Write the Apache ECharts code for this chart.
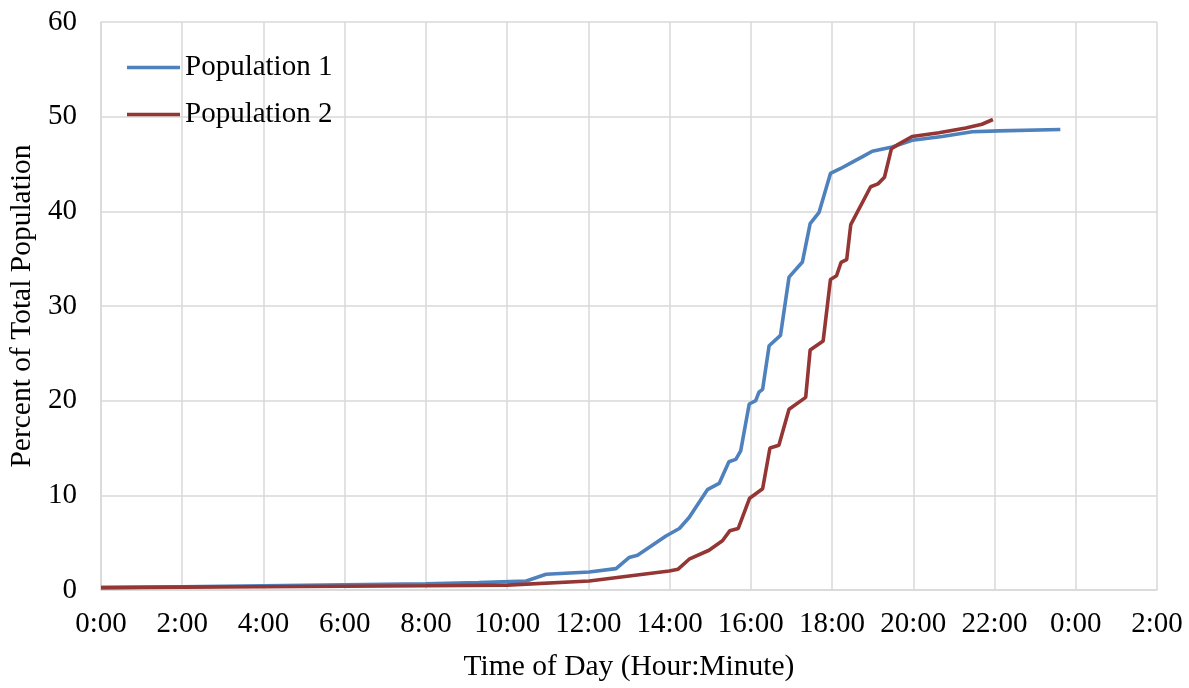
<!DOCTYPE html>
<html><head><meta charset="utf-8">
<script src="https://cdn.jsdelivr.net/npm/echarts@6/dist/echarts.min.js"></script>
<style>html,body{margin:0;padding:0;background:#fff}#c{width:1189px;height:688px}</style>
</head><body><div id="c"></div>
<script>
// time of day in hours (values > 24 belong to next day)
var xTicks = [0,2,4,6,8,10,12,14,16,18,20,22,24,26];
var pop1Time = [0, 2, 4, 6, 8, 9.3, 10.47, 10.96, 12.02, 12.68, 13.0, 13.21, 13.91, 14.24, 14.48, 14.93, 15.22, 15.46, 15.63, 15.75, 15.96, 16.12, 16.2, 16.29, 16.45, 16.73, 16.94, 17.27, 17.46, 17.68, 17.96, 18.2, 18.5, 18.74, 18.99, 19.48, 19.97, 20.71, 21.45, 22.1, 23.62];
var pop1Value = [0.25, 0.35, 0.45, 0.55, 0.65, 0.78, 0.95, 1.66, 1.9, 2.26, 3.43, 3.67, 5.7, 6.5, 7.66, 10.6, 11.26, 13.55, 13.8, 14.7, 19.65, 20.0, 20.9, 21.2, 25.8, 26.9, 33.05, 34.65, 38.7, 39.9, 44.0, 44.5, 45.2, 45.75, 46.35, 46.8, 47.5, 47.9, 48.4, 48.5, 48.65];
var pop2Time = [0, 2, 4, 6, 8, 10.0, 12.02, 13.99, 14.21, 14.48, 14.97, 15.3, 15.48, 15.69, 15.97, 16.29, 16.47, 16.69, 16.94, 17.35, 17.46, 17.78, 17.96, 18.11, 18.22, 18.36, 18.46, 18.95, 19.13, 19.29, 19.46, 19.64, 19.97, 20.63, 21.29, 21.69, 21.96];
var pop2Value = [0.25, 0.3, 0.35, 0.4, 0.45, 0.52, 0.95, 2.0, 2.2, 3.25, 4.2, 5.2, 6.25, 6.5, 9.7, 10.7, 15.0, 15.3, 19.1, 20.35, 25.35, 26.3, 32.8, 33.2, 34.6, 34.9, 38.6, 42.6, 42.9, 43.6, 46.6, 47.1, 47.9, 48.3, 48.8, 49.2, 49.7];

function pairs(t, v){ return t.map(function(x,i){ return [x, v[i]]; }); }
var FONT = '"Liberation Serif","Times New Roman",serif';
var FS = 29;
var FT = 29.5;
var chart = echarts.init(document.getElementById('c'));
chart.setOption({
  animation: false,
  backgroundColor: '#fff',
  grid: { left: 101, right: 32, top: 22, bottom: 98, containLabel: false, outerBoundsMode: 'none' },
  legend: {
    orient: 'vertical', left: 122, top: 48, itemWidth: 53, itemHeight: 3.5, itemGap: 18,
    icon: 'rect',
    textStyle: { fontFamily: FONT, fontSize: FS, color: '#000' },
    data: ['Population 1', 'Population 2']
  },
  xAxis: {
    type: 'value', min: 0, max: 26, interval: 2,
    name: 'Time of Day (Hour:Minute)', nameLocation: 'middle', nameGap: 62,
    nameTextStyle: { fontFamily: FONT, fontSize: FT, color: '#000' },
    axisLine: { lineStyle: { color: '#d9d9d9', width: 1.5 } },
    axisTick: { show: false },
    axisLabel: { fontFamily: FONT, fontSize: FS, color: '#000', margin: 20,
      formatter: function(v){ return (v % 24) + ':00'; } },
    splitLine: { show: true, lineStyle: { color: '#d9d9d9', width: 1.5 } }
  },
  yAxis: {
    type: 'value', min: 0, max: 60, interval: 10,
    name: 'Percent of Total Population', nameLocation: 'middle', nameGap: 57, nameRotate: 90,
    nameTextStyle: { fontFamily: FONT, fontSize: FT, color: '#000' },
    axisLine: { show: true, lineStyle: { color: '#d9d9d9', width: 1.5 } },
    axisTick: { show: false },
    axisLabel: { fontFamily: FONT, fontSize: FS, color: '#000', margin: 24 },
    splitLine: { show: true, lineStyle: { color: '#d9d9d9', width: 1.5 } }
  },
  series: [
    { name: 'Population 1', type: 'line', showSymbol: false, symbol: 'none',
      data: pairs(pop1Time, pop1Value), color: '#4F81BD',
      lineStyle: { color: '#4F81BD', width: 3.6 }, z: 3 },
    { name: 'Population 2', type: 'line', showSymbol: false, symbol: 'none',
      data: pairs(pop2Time, pop2Value), color: '#943634',
      lineStyle: { color: '#943634', width: 3.6 }, z: 4 }
  ]
});
</script></body></html>
